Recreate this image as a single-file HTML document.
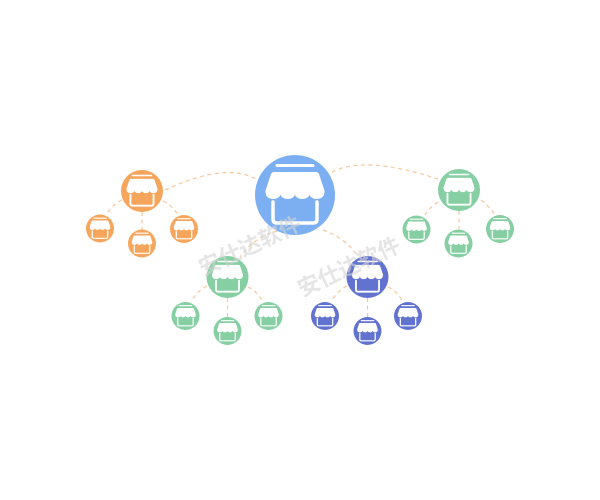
<!DOCTYPE html>
<html>
<head>
<meta charset="utf-8">
<style>
  html, body { margin: 0; padding: 0; background: #ffffff; }
  body { width: 600px; height: 500px; overflow: hidden; }
  svg { display: block; }
</style>
</head>
<body>
<svg width="600" height="500" viewBox="0 0 600 500" xmlns="http://www.w3.org/2000/svg">
  <defs>
    <g id="shop">
      <line x1="-18" y1="-29.5" x2="18" y2="-29.5" stroke="#fff" stroke-width="3" stroke-linecap="round"/>
      <path d="M -21,-23 H 21 Q 23,-23 24,-21 L 29,-6 Q 30,-3 29,-1
               A 7.25 5 0 0 1 14.5,-1
               A 7.25 5 0 0 1 0,-1
               A 7.25 5 0 0 1 -14.5,-1
               A 7.25 5 0 0 1 -29,-1
               Q -30,-3 -29,-6 L -24,-21 Q -23,-23 -21,-23 Z" fill="#fff"/>
      <path d="M -22,7 V 24 Q -22,28 -18,28 H 18 Q 22,28 22,24 V 7" fill="none" stroke="#fff" stroke-width="3.5" stroke-linecap="round" stroke-linejoin="round"/>
    </g>
  </defs>

  <!-- connectors -->
  <g fill="none" stroke="#f7c79c" stroke-width="1.2" stroke-dasharray="4 3.5">
    <path d="M 165,190 Q 225,162 256,179"/>
    <path d="M 332,172 Q 365,155 438,179"/>
    <path d="M 278,231 Q 255,236 240,257"/>
    <path d="M 323,230 Q 345,238 357,255"/>

    <path d="M 122,200 Q 112,205 106,215"/>
    <path d="M 142,212 L 142,230"/>
    <path d="M 163,201 Q 172,205 178,215"/>

    <path d="M 207,286 Q 197,291 191,302"/>
    <path d="M 227.5,298 L 227.5,317"/>
    <path d="M 248,287 Q 257,291 263,302"/>

    <path d="M 347,286 Q 337,291 331,302"/>
    <path d="M 367.5,298 L 367.5,317"/>
    <path d="M 388,287 Q 397,291 403,302"/>

    <path d="M 438,202 Q 430,207 425,215"/>
    <path d="M 459,211 L 459,229"/>
    <path d="M 481,200 Q 489,206 495,215"/>
  </g>

  <!-- central blue -->
  <circle cx="295" cy="195" r="40" fill="#7baff1"/>
  <use href="#shop" transform="translate(295,195)"/>

  <!-- orange cluster -->
  <g fill="#f6a65c">
    <circle cx="142" cy="191" r="21"/>
    <circle cx="100" cy="228.5" r="14"/>
    <circle cx="142" cy="243.5" r="14"/>
    <circle cx="184" cy="229" r="14"/>
  </g>
  <use href="#shop" transform="translate(142,191) scale(0.525)"/>
  <use href="#shop" transform="translate(100,228.5) scale(0.35)"/>
  <use href="#shop" transform="translate(142,243.5) scale(0.35)"/>
  <use href="#shop" transform="translate(184,229) scale(0.35)"/>

  <!-- green bottom-left cluster -->
  <g fill="#85cfa3">
    <circle cx="227.5" cy="277" r="21"/>
    <circle cx="185.5" cy="316" r="14"/>
    <circle cx="227.5" cy="331" r="14"/>
    <circle cx="268.5" cy="316" r="14"/>
  </g>
  <use href="#shop" transform="translate(227.5,277) scale(0.525)"/>
  <use href="#shop" transform="translate(185.5,316) scale(0.35)"/>
  <use href="#shop" transform="translate(227.5,331) scale(0.35)"/>
  <use href="#shop" transform="translate(268.5,316) scale(0.35)"/>

  <!-- dark blue cluster -->
  <g fill="#6272cf">
    <circle cx="367.5" cy="277" r="21"/>
    <circle cx="325" cy="316" r="14"/>
    <circle cx="367.5" cy="331" r="14"/>
    <circle cx="408" cy="316" r="14"/>
  </g>
  <use href="#shop" transform="translate(367.5,277) scale(0.525)"/>
  <use href="#shop" transform="translate(325,316) scale(0.35)"/>
  <use href="#shop" transform="translate(367.5,331) scale(0.35)"/>
  <use href="#shop" transform="translate(408,316) scale(0.35)"/>

  <!-- green top-right cluster -->
  <g fill="#85cfa3">
    <circle cx="459" cy="190" r="21"/>
    <circle cx="416.5" cy="229.5" r="14"/>
    <circle cx="458.5" cy="243.5" r="14"/>
    <circle cx="500" cy="229" r="14"/>
  </g>
  <use href="#shop" transform="translate(459,190) scale(0.525)"/>
  <use href="#shop" transform="translate(416.5,229.5) scale(0.35)"/>
  <use href="#shop" transform="translate(458.5,243.5) scale(0.35)"/>
  <use href="#shop" transform="translate(500,229) scale(0.35)"/>

  <!-- watermarks -->
  <g font-family="'Liberation Sans', 'Noto Sans CJK SC', sans-serif" font-size="22" font-weight="bold" fill="#d4d4d4" fill-opacity="0.6" text-anchor="middle" dominant-baseline="central">
    <text x="250" y="246" transform="rotate(-25 250 246)">安仕达软件</text>
    <text x="349" y="267" transform="rotate(-25 349 267)">安仕达软件</text>
  </g>
</svg>
</body>
</html>
